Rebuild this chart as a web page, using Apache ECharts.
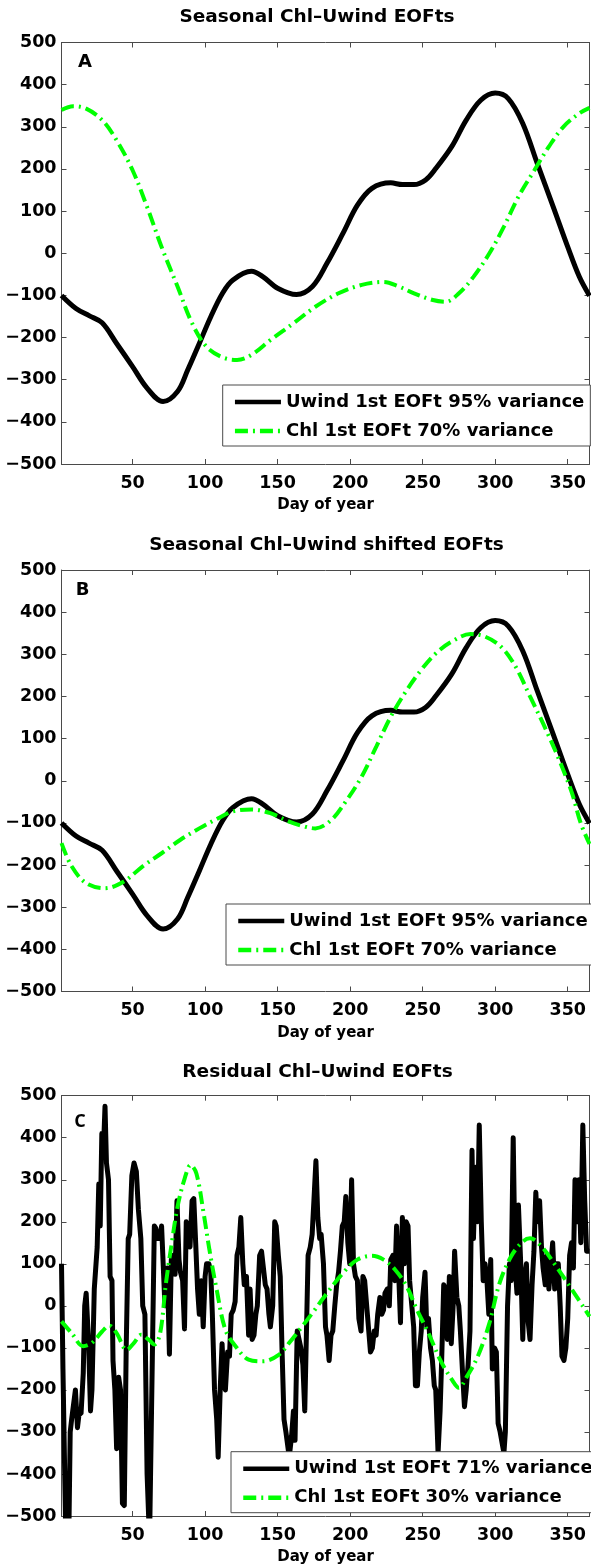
<!DOCTYPE html>
<html><head><meta charset="utf-8">
<script src="https://cdn.jsdelivr.net/npm/echarts@6/dist/echarts.min.js"></script>
<style>html,body{margin:0;padding:0;background:#fff}#c{width:591px;height:1566px}</style>
</head><body><div id="c"></div><script>
// ---- data (day of year, value) ----
const dayTicks = [50, 100, 150, 200, 250, 300, 350];
const yMin = -500, yMax = 500, yStep = 100;

const panelTitles = ['Seasonal Chl\u2013Uwind EOFts', 'Seasonal Chl\u2013Uwind shifted EOFts', 'Residual Chl\u2013Uwind EOFts'];
const panelLetters = ['A', 'B', 'C'];
const xName = 'Day of year';

const namesSeasonal = ['Uwind 1st EOFt 95% variance', 'Chl 1st EOFt 70% variance'];
const namesResidual = ['Uwind 1st EOFt 71% variance', 'Chl 1st EOFt 30% variance'];

const uwindSeasonal = [[1,-100],[11,-131],[20,-148],[29,-165],[39,-214],[50,-269],[60,-320],[71,-352],[81,-328],[88,-277],[96,-214],[104,-150],[112,-95],[119,-64],[132,-43],[140,-56],[150,-83],[163,-98],[174,-79],[184,-24],[195,47],[205,114],[215,154],[228,167],[236,163],[244,163],[252,174],[259,201],[270,253],[280,316],[290,363],[300,380],[309,367],[319,308],[329,213],[340,110],[350,15],[358,-56],[365,-101]];

const chlSeasonal = [[1,340],[9,349],[18,343],[29,316],[39,268],[50,197],[60,110],[70,15],[81,-79],[91,-166],[101,-222],[112,-247],[122,-253],[132,-241],[145,-206],[161,-166],[176,-127],[192,-95],[208,-75],[223,-68],[233,-78],[244,-95],[257,-111],[266,-115],[275,-95],[285,-56],[296,0],[306,63],[316,134],[327,197],[337,253],[347,300],[358,332],[365,345]];

const chlShifted = [[1,-148],[8,-203],[18,-243],[31,-255],[44,-239],[57,-203],[70,-172],[83,-140],[96,-113],[109,-89],[119,-73],[132,-68],[145,-77],[158,-97],[169,-109],[176,-113],[187,-93],[197,-49],[208,10],[218,81],[228,152],[239,215],[249,263],[259,302],[270,330],[283,348],[293,342],[304,318],[314,271],[324,200],[335,121],[345,42],[353,-30],[359,-101],[365,-150]];

const chlResidual = [[1,-37],[8,-65],[16,-96],[22,-88],[29,-61],[34,-47],[39,-65],[46,-105],[51,-88],[56,-69],[61,-80],[65,-92],[69,-65],[73,54],[77,149],[81,236],[86,304],[90,335],[94,315],[99,220],[103,133],[108,38],[114,-57],[121,-96],[130,-128],[140,-132],[151,-116],[158,-88],[166,-53],[174,-17],[184,30],[195,78],[205,110],[215,119],[223,110],[231,86],[239,46],[246,-9],[254,-65],[262,-128],[270,-175],[275,-195],[280,-171],[288,-120],[296,-41],[303,54],[311,118],[319,153],[324,161],[332,141],[342,94],[353,38],[365,-25]];

const uwindResidual = [[1,100],[2,-150],[4,-560],[6,-560],[7,-300],[8,-270],[9,-270],[10.6,-200],[12,-290],[13,-260],[14.5,-255],[16,-160],[17,0],[18,30],[19.7,-90],[21,-250],[22,-200],[23.6,40],[25.6,140],[26.7,290],[27.7,190],[28.8,410],[30,380],[31,475],[32,340],[33.4,300],[34.5,70],[35.8,60],[36.5,-130],[37.8,-200],[39,-340],[40.4,-170],[41.7,-200],[43,-470],[44.3,-475],[45.6,-100],[47,160],[48,170],[49.5,310],[51,340],[52.6,320],[54,230],[55.7,160],[57,0],[58.5,-20],[60,-400],[61.7,-560],[63,-560],[65,190],[66,185],[67.6,160],[69,160],[70,190],[72.3,0],[74,90],[75.4,-115],[76.7,110],[78,120],[79.3,75],[80.6,250],[82,110],[83,80],[84.5,60],[85.8,-55],[87,200],[88.3,200],[89.6,140],[91,250],[92.2,255],[93.5,150],[94.8,40],[96,-20],[97.4,60],[98.7,-50],[100,70],[101,100],[102.6,100],[103.9,80],[105,-20],[106.5,-200],[108,-270],[109,-360],[110.4,-200],[111.7,-90],[113,-190],[114,-200],[115.5,-110],[116.8,-120],[118,-20],[119.4,-10],[120.7,10],[122,120],[123.3,140],[124.6,210],[126,100],[127,50],[128.5,70],[130,-70],[131,40],[132.4,-80],[133.7,-70],[135,-20],[136,0],[137.6,120],[138.9,130],[140,130],[141.5,50],[142.7,40],[144,-20],[145,-50],[146.6,0],[148,200],[149,190],[150.5,120],[151.8,70],[153,-100],[154.4,-270],[155.7,-300],[157,-300],[158,-360],[159.6,-310],[160.9,-250],[162,-320],[163.5,-60],[164.8,-60],[166,-100],[167.4,-140],[168.7,-250],[170,-250],[171,120],[172.5,140],[173.8,170],[175,250],[176.4,345],[177.7,210],[179,160],[180,170],[181.6,100],[183,-50],[184,-70],[185.5,-130],[186.8,-70],[188,-60],[189.4,0],[190.7,50],[192,80],[193.3,130],[194.6,190],[195.9,200],[197,260],[198.4,150],[199.7,100],[201,300],[202.3,100],[203.6,70],[205,60],[206,-30],[207.5,-60],[208.8,70],[210,60],[211.4,0],[212.7,0],[214,-110],[215.3,-100],[216.6,-60],[217.9,-70],[219,-20],[220.5,20],[221.8,-20],[223,-10],[224,30],[225.6,40],[227,0],[228,110],[229.5,120],[230.8,60],[232,190],[233.4,80],[234.7,-40],[236,210],[237.3,100],[238.6,200],[239.9,190],[241,60],[242.5,0],[243.8,-50],[245,-190],[246.4,-190],[247.7,-110],[249,-60],[250,20],[251.6,80],[252.8,-50],[254,-30],[255.4,-100],[256.7,-130],[258,-190],[259,-200],[260.6,-350],[262,-250],[263,-140],[264.5,50],[265.8,40],[267,-80],[268.4,70],[269.7,-90],[271,0],[272,130],[273.6,20],[274.9,0],[276,-60],[277.5,-160],[278.8,-240],[280,-200],[281.3,-140],[282.6,-60],[284,370],[285,160],[286.5,330],[287.8,200],[289,430],[290.4,200],[291.7,60],[293,100],[294.3,60],[295.6,-20],[296.9,110],[298,-150],[299.5,-100],[300.8,-110],[302,-280],[303.4,-300],[304.7,-300],[306,-350],[307,-300],[308.5,0],[309.8,100],[311,60],[312.4,400],[313.7,100],[315,30],[316,240],[317.6,100],[319,-80],[320,60],[321.5,100],[322.8,-40],[324,-80],[325.4,50],[326.7,130],[328,270],[329,200],[330.6,250],[331.9,140],[333,90],[334.5,50],[335.8,120],[337,40],[338.4,100],[339.6,150],[341,40],[342,100],[343.5,100],[344.8,0],[346,-120],[347.4,-130],[348.7,-100],[350,-30],[351.3,120],[352.6,150],[353.9,90],[355,300],[356.5,200],[357.8,300],[359,150],[360.4,430],[361.7,250],[363,130],[365,130]];

// ---- layout / style ----
const FONT = 'DejaVu Sans';
const AX = '#4a4a4a';
const GREEN = '#00ff00';
const gridTops = [42.5, 570, 1095.7];
const gridLeft = 61.5, gridW = 528, gridH = 421.5;
const titleCenters = [[317, 16.7], [326.5, 545], [317.5, 1071.7]];
const letterPos = [[85, 62], [82.5, 590], [80, 1122]];
const legendPos = [[222.7, 385], [226, 904], [231, 1451.7]];
const dash = [13, 5, 2, 5];

const grids = [], xAxes = [], yAxes = [], series = [], titles = [], legends = [], graphics = [];
const panels = [
  {names: namesSeasonal, black: uwindSeasonal, green: chlSeasonal, smooth: true},
  {names: namesSeasonal, black: uwindSeasonal, green: chlShifted, smooth: true},
  {names: namesResidual, black: uwindResidual, green: chlResidual, smooth: false}
];
const minusFmt = v => v < 0 ? '\u2212' + (-v) : String(v);

panels.forEach((p, i) => {
  grids.push({left: gridLeft, top: gridTops[i], width: gridW, height: gridH, show: false});
  xAxes.push({
    type: 'value', gridIndex: i, position: 'bottom', min: 1, max: 365,
    axisLine: {show: true, onZero: false, lineStyle: {color: AX, width: 1}},
    axisTick: {show: true, inside: true, length: 5, customValues: dayTicks, lineStyle: {color: AX}},
    axisLabel: {show: true, customValues: dayTicks, fontFamily: FONT, fontWeight: 'bold', fontSize: 17.5, color: '#000', margin: 10},
    splitLine: {show: false},
    name: xName, nameLocation: 'middle', nameGap: 34,
    nameTextStyle: {fontFamily: FONT, fontWeight: 'bold', fontSize: 15, color: '#000'}
  });
  xAxes.push({
    type: 'value', gridIndex: i, position: 'top', min: 1, max: 365,
    axisLine: {show: true, onZero: false, lineStyle: {color: AX, width: 1}},
    axisTick: {show: true, inside: true, length: 5, customValues: dayTicks, lineStyle: {color: AX}},
    axisLabel: {show: false}, splitLine: {show: false}
  });
  yAxes.push({
    type: 'value', gridIndex: i, position: 'left', min: yMin, max: yMax, interval: yStep,
    axisLine: {show: true, onZero: false, lineStyle: {color: AX, width: 1}},
    axisTick: {show: true, inside: true, length: 5, lineStyle: {color: AX}},
    axisLabel: {show: true, formatter: minusFmt, fontFamily: FONT, fontWeight: 'bold', fontSize: 17.5, color: '#000', margin: 5},
    splitLine: {show: false}
  });
  yAxes.push({
    type: 'value', gridIndex: i, position: 'right', min: yMin, max: yMax, interval: yStep,
    axisLine: {show: true, onZero: false, lineStyle: {color: AX, width: 1}},
    axisTick: {show: true, inside: true, length: 5, lineStyle: {color: AX}},
    axisLabel: {show: false}, splitLine: {show: false}
  });
  series.push({
    name: p.names[0], type: 'line', xAxisIndex: 2 * i, yAxisIndex: 2 * i,
    data: p.black, smooth: p.smooth ? 0.35 : false,
    symbol: 'none', showSymbol: false, clip: true, animation: false,
    lineStyle: {color: '#000', width: 5, join: 'round'},
    itemStyle: {color: '#000'}, z: 2
  });
  series.push({
    name: p.names[1], type: 'line', xAxisIndex: 2 * i, yAxisIndex: 2 * i,
    data: p.green, smooth: 0.35,
    symbol: 'none', showSymbol: false, clip: true, animation: false,
    lineStyle: {color: GREEN, width: 4, type: dash},
    itemStyle: {color: GREEN}, z: 3
  });
  titles.push({
    text: panelTitles[i], left: titleCenters[i][0], top: titleCenters[i][1], padding: 0,
    textAlign: 'center', textVerticalAlign: 'middle',
    textStyle: {fontFamily: FONT, fontWeight: 'bold', fontSize: 18.5, color: '#000'}
  });
  legends.push({
    data: p.names, orient: 'vertical', left: legendPos[i][0], top: legendPos[i][1],
    padding: [7, 6, 5, 10], itemWidth: 46, itemHeight: 14, itemGap: 9,
    borderColor: AX, borderWidth: 1, backgroundColor: '#fff', selectedMode: false,
    itemStyle: {opacity: 0},
    lineStyle: {width: 4.5},
    textStyle: {fontFamily: FONT, fontWeight: 'bold', fontSize: 18, color: '#000', lineHeight: 20}
  });
  graphics.push({
    type: 'text', x: letterPos[i][0], y: letterPos[i][1], z: 10,
    style: {text: panelLetters[i], font: 'bold 18px ' + (i === 2 ? '"Open Sans"' : '"DejaVu Sans"'),
      fill: '#000', textAlign: 'center', textVerticalAlign: 'middle'}
  });
});

const chart = echarts.init(document.getElementById('c'), null, {renderer: 'canvas'});
chart.setOption({
  animation: false,
  backgroundColor: '#fff',
  title: titles, grid: grids, xAxis: xAxes, yAxis: yAxes,
  legend: legends, series: series, graphic: graphics
});
</script></body></html>
